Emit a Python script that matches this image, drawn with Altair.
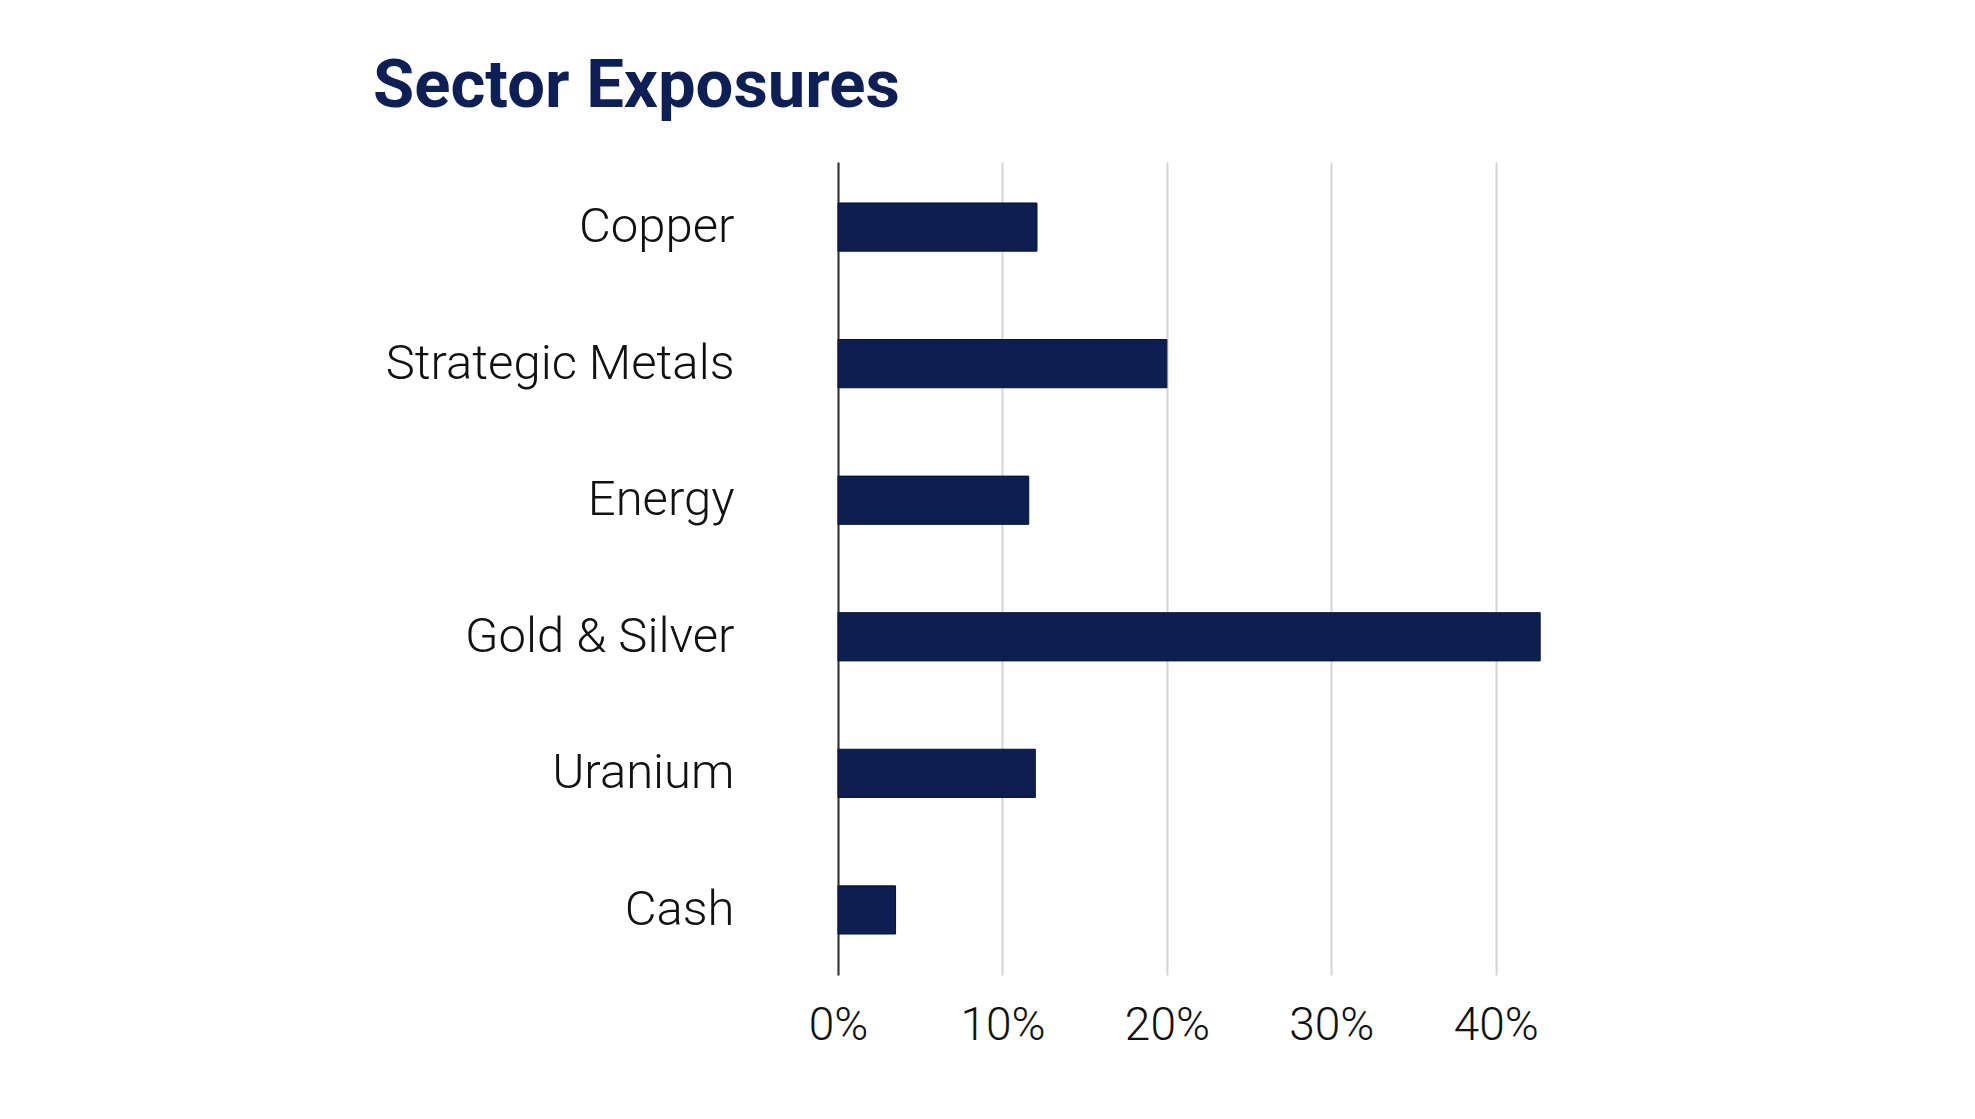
import altair as alt
import pandas as pd

sectors = ["Copper", "Strategic Metals", "Energy", "Gold & Silver", "Uranium", "Cash"]
weights = [12.1, 20.0, 11.6, 42.7, 12.0, 3.5]
tick_values = [0, 10, 20, 30, 40]

df = pd.DataFrame({"sector": sectors, "weight": weights})

chart = (
    alt.Chart(df)
    .mark_bar(color="#0c1f50", stroke="#06123a", strokeWidth=1)
    .encode(
        x=alt.X(
            "weight:Q",
            scale=alt.Scale(domain=[0, 45], nice=False, zero=True),
            axis=alt.Axis(
                values=tick_values,
                labelExpr="datum.value + '%'",
                title=None,
                domain=False,
                ticks=False,
                grid=True,
                gridColor="#d4d4d4",
                gridWidth=2,
                labelFont="Roboto",
                labelFontWeight=300,
                labelFontSize=46,
                labelColor="#111111",
                labelPadding=28,
                labelFlush=False,
            ),
        ),
        y=alt.Y(
            "sector:N",
            sort=sectors,
            scale=alt.Scale(paddingInner=0.647, paddingOuter=0.30),
            axis=alt.Axis(
                title=None,
                domain=True,
                domainColor="#333333",
                domainWidth=2,
                ticks=False,
                grid=False,
                labelFont="Roboto",
                labelFontWeight=300,
                labelFontSize=49,
                labelColor="#111111",
                labelPadding=104,
                labelLimit=600,
            ),
        ),
    )
    .properties(
        width=740,
        height=813,
        padding={"left": 830, "top": 154, "right": 20, "bottom": 130},
        autosize=alt.AutoSizeParams(type="none"),
        title=alt.TitleParams(
            "Sector Exposures",
            anchor="start",
            frame="group",
            font="Roboto",
            fontSize=67,
            fontWeight="bold",
            color="#0e1f55",
            baseline="alphabetic",
            offset=43,
            dx=-465,
            dy=55,
        ),
        background="white",
    )
    .configure_view(stroke=None)
)

chart.save("out.html", embed_options={"renderer": "svg", "actions": False})
